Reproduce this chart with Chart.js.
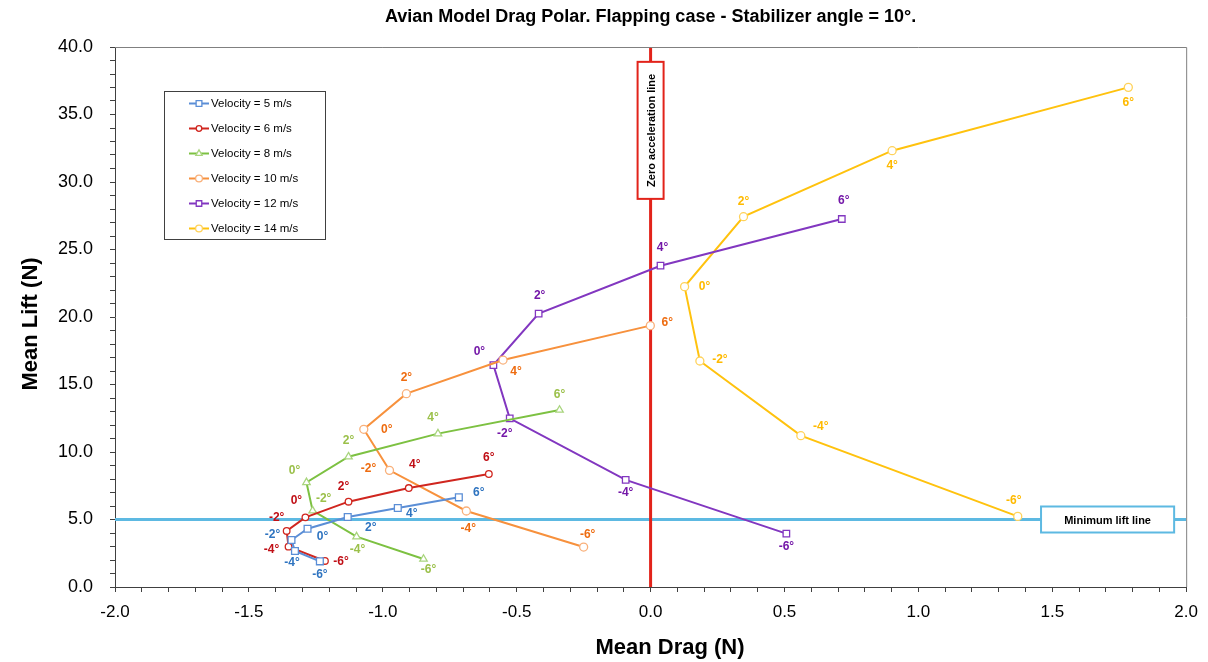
<!DOCTYPE html>
<html>
<head>
<meta charset="utf-8">
<title>Avian Model Drag Polar</title>
<script src="https://cdn.jsdelivr.net/npm/chart.js@4.4.1/dist/chart.umd.min.js"></script>
<style>
  body { margin: 0; background: #fff; }
  #wrap { width: 1208px; height: 662px; position: relative; }
</style>
</head>
<body>
<div id="wrap"><canvas id="polarChart"></canvas></div>
<script>
// stabilizer / flapping angle for every point, -6° .. 6°
const angles = [-6, -4, -2, 0, 2, 4, 6];

// mean drag (N) and mean lift (N) per velocity
const drag5  = [-1.235, -1.328, -1.341, -1.281, -1.131, -0.944, -0.716];
const lift5  = [1.90, 2.67, 3.48, 4.32, 5.19, 5.85, 6.64];
const drag6  = [-1.216, -1.352, -1.359, -1.289, -1.128, -0.903, -0.604];
const lift6  = [1.93, 2.99, 4.15, 5.16, 6.32, 7.33, 8.37];
const drag8  = [-0.848, -1.098, -1.262, -1.285, -1.128, -0.794, -0.340];
const lift8  = [2.07, 3.73, 5.65, 7.75, 9.65, 11.36, 13.11];
const drag10 = [-0.250, -0.688, -0.975, -1.071, -0.912, -0.551, -0.001];
const lift10 = [2.96, 5.63, 8.64, 11.68, 14.32, 16.81, 19.36];
const drag12 = [0.507, -0.093, -0.526, -0.587, -0.418, 0.037, 0.714];
const lift12 = [3.95, 7.93, 12.49, 16.44, 20.25, 23.80, 27.26];
const drag14 = [1.371, 0.561, 0.184, 0.127, 0.347, 0.902, 1.784];
const lift14 = [5.23, 11.21, 16.74, 22.25, 27.43, 32.32, 37.01];

const seriesNames = ["Velocity = 5 m/s", "Velocity = 6 m/s", "Velocity = 8 m/s",
                     "Velocity = 10 m/s", "Velocity = 12 m/s", "Velocity = 14 m/s"];

// reference lines
const minLift = 5.0;
const zeroDrag = 0.0;

// axis ticks
const xTicks = [-2.0, -1.5, -1.0, -0.5, 0.0, 0.5, 1.0, 1.5, 2.0];
const yTicks = [0, 5, 10, 15, 20, 25, 30, 35, 40];

// where each angle label sits relative to its point (px), -6° .. 6°
const labelOffsets = [
    [[0, 13], [-3, 12], [-19, -5], [15, 8], [23, 11], [14, 6], [20, -5]],
    [[16, 1], [-17, 3], [-10, -13], [-9, -17], [-5, -15], [6, -23], [0, -16]],
    [[5, 11], [1, 13], [11, -12], [-12, -12], [0, -16], [-5, -16], [0, -15]],
    [[4, -12], [2, 18], [-21, -2], [23, 0], [0, -16], [13, 12], [17, -3]],
    [[0, 13], [0, 13], [-5, 15], [-14, -13], [1, -18], [2, -18], [2, -18]],
    [[-4, -16], [20, -9], [20, -1], [20, 0], [0, -15], [0, 15], [0, 15]]
];

function points(drag, lift) {
    return angles.map((a, i) => ({ x: drag[i], y: lift[i] }));
}

const styles = [
    { line: "#5B8ED6", point: "#5B8ED6", label: "#2F74C0", shape: "rect", r: 4.8 },
    { line: "#D0261F", point: "#D0261F", label: "#C00F16", shape: "circle", r: 3.3 },
    { line: "#7DC142", point: "#A9D57E", label: "#9BC04A", shape: "triangle", r: 4.3 },
    { line: "#F7913D", point: "#F9B07A", label: "#EE6C10", shape: "circle", r: 4 },
    { line: "#8237C0", point: "#8237C0", label: "#7418A8", shape: "rect", r: 4.6 },
    { line: "#FFC20E", point: "#FFD25A", label: "#FFBA00", shape: "circle", r: 4 }
];

const allData = [
    points(drag5, lift5), points(drag6, lift6), points(drag8, lift8),
    points(drag10, lift10), points(drag12, lift12), points(drag14, lift14)
];

const datasets = allData.map((d, i) => ({
    label: seriesNames[i],
    data: d,
    showLine: true,
    borderColor: styles[i].line,
    borderWidth: 2,
    pointStyle: styles[i].shape,
    pointRadius: styles[i].r,
    pointBorderColor: styles[i].point,
    pointBackgroundColor: "#ffffff",
    pointBorderWidth: 1.3,
    labelColor: styles[i].label,
    labelOffsets: labelOffsets[i],
    order: 1
}));

// minimum lift line and zero acceleration line, drawn underneath
datasets.push({
    label: "Minimum lift line",
    data: [{ x: xTicks[0], y: minLift }, { x: xTicks[xTicks.length - 1], y: minLift }],
    showLine: true, borderColor: "#5DB9E2", borderWidth: 3, pointRadius: 0, order: 10
});
datasets.push({
    label: "Zero acceleration line",
    data: [{ x: zeroDrag, y: yTicks[0] }, { x: zeroDrag, y: yTicks[yTicks.length - 1] }],
    showLine: true, borderColor: "#E2231A", borderWidth: 3, pointRadius: 0, order: 9
});

const minorTicks = (lo, hi, step) => {
    const out = [];
    const n = Math.round((hi - lo) / step);
    for (let k = 0; k <= n; k++) out.push({ value: Math.round((lo + k * step) * 1000) / 1000 });
    return out;
};
const isMajor = (v, list) => list.some(t => Math.abs(t - v) < 1e-6);

// angle labels next to every point
const angleLabels = {
    id: "angleLabels",
    afterDatasetsDraw(chart) {
        const ctx = chart.ctx;
        ctx.save();
        ctx.font = "bold 12px 'Liberation Sans', Arial, sans-serif";
        ctx.textAlign = "center";
        ctx.textBaseline = "middle";
        chart.data.datasets.forEach((ds, i) => {
            if (!ds.labelOffsets) return;
            const meta = chart.getDatasetMeta(i);
            ctx.fillStyle = ds.labelColor;
            meta.data.forEach((pt, j) => {
                const off = ds.labelOffsets[j];
                ctx.fillText(angles[j] + "°", pt.x + off[0], pt.y + off[1]);
            });
        });
        ctx.restore();
    }
};

// plot frame, boxed captions for the reference lines, legend and axis titles
const decorations = {
    id: "decorations",
    afterDatasetsDraw(chart) {
        const ctx = chart.ctx;
        const { left, right, top, bottom } = chart.chartArea;
        const xs = chart.scales.x, ys = chart.scales.y;
        ctx.save();

        ctx.strokeStyle = "#808080";
        ctx.lineWidth = 1;
        ctx.beginPath();
        ctx.moveTo(left, top + 0.5);
        ctx.lineTo(right + 0.5, top + 0.5);
        ctx.lineTo(right + 0.5, bottom);
        ctx.stroke();

        // zero acceleration caption
        const zx = xs.getPixelForValue(zeroDrag);
        const zTop = ys.getPixelForValue(38.9), zBot = ys.getPixelForValue(28.75);
        ctx.fillStyle = "#ffffff";
        ctx.fillRect(zx - 13, zTop, 26, zBot - zTop);
        ctx.strokeStyle = "#E2231A";
        ctx.lineWidth = 2;
        ctx.strokeRect(zx - 13, zTop, 26, zBot - zTop);
        ctx.save();
        ctx.translate(zx, (zTop + zBot) / 2);
        ctx.rotate(-Math.PI / 2);
        ctx.fillStyle = "#000000";
        ctx.font = "bold 11px 'Liberation Sans', Arial, sans-serif";
        ctx.textAlign = "center";
        ctx.textBaseline = "middle";
        ctx.fillText("Zero acceleration line", 0, 1);
        ctx.restore();

        // minimum lift caption
        const my = ys.getPixelForValue(minLift);
        const mL = xs.getPixelForValue(1.458), mR = xs.getPixelForValue(1.955);
        ctx.fillStyle = "#ffffff";
        ctx.fillRect(mL, my - 13, mR - mL, 26);
        ctx.strokeStyle = "#5DB9E2";
        ctx.lineWidth = 2;
        ctx.strokeRect(mL, my - 13, mR - mL, 26);
        ctx.fillStyle = "#000000";
        ctx.font = "bold 11px 'Liberation Sans', Arial, sans-serif";
        ctx.textAlign = "center";
        ctx.textBaseline = "middle";
        ctx.fillText("Minimum lift line", (mL + mR) / 2, my + 1);

        // legend
        const lx = left + 49, ly = top + 44, lw = 161, lh = 148;
        ctx.fillStyle = "#ffffff";
        ctx.fillRect(lx, ly, lw, lh);
        ctx.strokeStyle = "#404040";
        ctx.lineWidth = 1;
        ctx.strokeRect(lx + 0.5, ly + 0.5, lw, lh);
        ctx.font = "11.5px 'Liberation Sans', Arial, sans-serif";
        ctx.textAlign = "left";
        ctx.textBaseline = "middle";
        chart.data.datasets.forEach((ds, i) => {
            if (!ds.labelOffsets) return;
            const ey = ly + 12.5 + i * 25;
            ctx.strokeStyle = ds.borderColor;
            ctx.lineWidth = 2;
            ctx.beginPath();
            ctx.moveTo(lx + 25, ey);
            ctx.lineTo(lx + 45, ey);
            ctx.stroke();
            ctx.fillStyle = "#ffffff";
            ctx.strokeStyle = ds.pointBorderColor;
            ctx.lineWidth = 1.3;
            Chart.helpers.drawPoint(ctx, { pointStyle: ds.pointStyle, radius: ds.pointRadius * 0.85, borderWidth: 1.3, rotation: 0 }, lx + 35, ey);
            ctx.fillStyle = "#000000";
            ctx.fillText(ds.label, lx + 47, ey + 0.5);
        });

        // axis titles
        ctx.fillStyle = "#000000";
        ctx.font = "bold 22px 'Liberation Sans', Arial, sans-serif";
        ctx.textAlign = "center";
        ctx.textBaseline = "middle";
        ctx.fillText("Mean Drag (N)", 670, 648);
        ctx.save();
        ctx.translate(31, 324);
        ctx.rotate(-Math.PI / 2);
        ctx.fillText("Mean Lift (N)", 0, 0);
        ctx.restore();

        ctx.restore();
    }
};

const ctx = document.getElementById("polarChart").getContext("2d");
const polarChart = new Chart(ctx, {
    type: "scatter",
    data: { datasets: datasets },
    plugins: [angleLabels, decorations],
    options: {
        responsive: true,
        maintainAspectRatio: false,
        animation: false,
        devicePixelRatio: 1,
        layout: { padding: { top: 0, right: 21, left: 0, bottom: 0 } },
        plugins: {
            legend: { display: false },
            tooltip: { enabled: false },
            title: {
                display: true,
                fullSize: false,
                text: "Avian Model Drag Polar. Flapping case - Stabilizer angle = 10°.",
                color: "#000000",
                font: { size: 18, weight: "bold", family: "'Liberation Sans', Arial, sans-serif" },
                padding: { top: 6, bottom: 19.4 }
            }
        },
        scales: {
            x: {
                type: "linear",
                min: xTicks[0],
                max: xTicks[xTicks.length - 1],
                afterBuildTicks: (s) => { s.ticks = minorTicks(xTicks[0], xTicks[xTicks.length - 1], 0.1); },
                afterFit: (s) => { s.height = 75; },
                grid: { display: true, drawOnChartArea: false, drawTicks: true, tickLength: 5, tickColor: "#404040" },
                border: { display: true, color: "#404040", width: 1 },
                ticks: {
                    autoSkip: false,
                    maxRotation: 0,
                    padding: 10,
                    color: "#000000",
                    font: { size: 17, family: "'Liberation Sans', Arial, sans-serif" },
                    callback: (v) => isMajor(v, xTicks) ? v.toFixed(1) : ""
                }
            },
            y: {
                type: "linear",
                min: yTicks[0],
                max: yTicks[yTicks.length - 1],
                afterBuildTicks: (s) => { s.ticks = minorTicks(yTicks[0], yTicks[yTicks.length - 1], 1); },
                afterFit: (s) => { s.width = 115; },
                grid: { display: true, drawOnChartArea: false, drawTicks: true, tickLength: 5, tickColor: "#404040" },
                border: { display: true, color: "#404040", width: 1 },
                ticks: {
                    autoSkip: false,
                    padding: 17,
                    color: "#000000",
                    font: { size: 18, family: "'Liberation Sans', Arial, sans-serif" },
                    callback: (v) => isMajor(v, yTicks) ? v.toFixed(1) : ""
                }
            }
        }
    }
});
</script>
</body>
</html>
